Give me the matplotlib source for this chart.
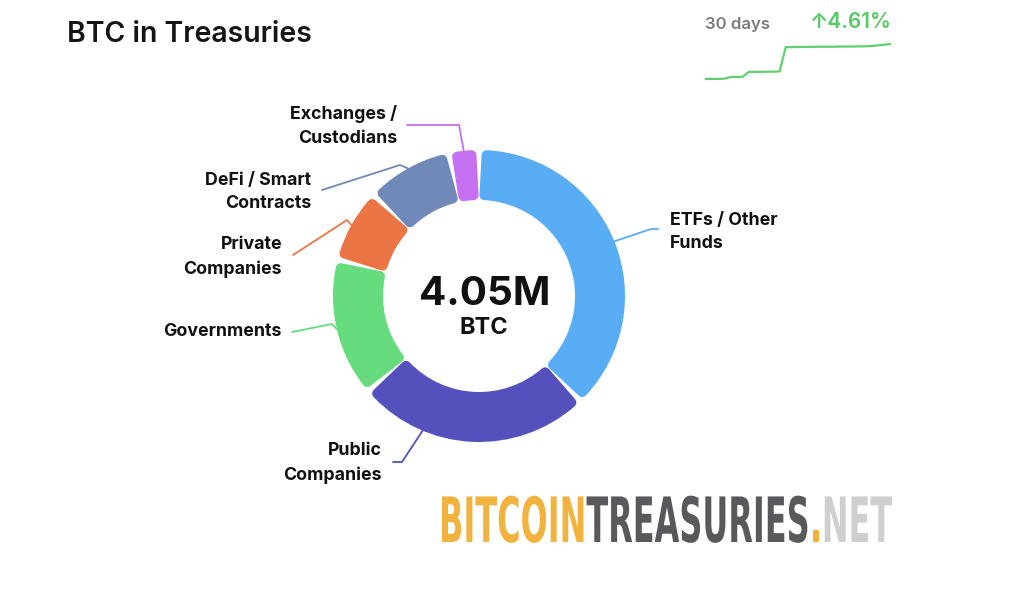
import matplotlib
matplotlib.use("Agg")
import matplotlib.pyplot as plt
from matplotlib.textpath import TextPath
from matplotlib.patches import PathPatch
from matplotlib.font_manager import FontProperties
from matplotlib.transforms import Affine2D
import numpy as np

plt.rcParams['font.family'] = ['Inter', 'DejaVu Sans']

# holdings by category, million BTC
categories = ['ETFs / Other\nFunds', 'Public\nCompanies', 'Governments',
              'Private\nCompanies', 'DeFi / Smart\nContracts', 'Exchanges /\nCustodians']
holdings = [1.53, 1.05, 0.62, 0.33, 0.385, 0.135]
colors = ['#58adf5', '#5451bd', '#66dc7e', '#ec7545', '#7189b9', '#c56ff1']

# total over the last 30 days, million BTC
days = list(range(31))
total_30d = [3.8715, 3.872, 3.872, 3.873, 3.882, 3.882, 3.883, 3.908, 3.908, 3.908,
             3.909, 3.909, 3.910, 4.034, 4.034, 4.035, 4.035, 4.035, 4.036, 4.036,
             4.036, 4.036, 4.037, 4.037, 4.037, 4.038, 4.038, 4.040, 4.043, 4.046, 4.050]

W, H = 1024, 593
fig = plt.figure(figsize=(W / 100, H / 100), dpi=100)
fig.patch.set_facecolor('white')
ax = fig.add_axes([0, 0, 1, 1])

cx, cy, R = 479, 297, 146
ring = 50
wedges, _ = ax.pie(holdings, colors=colors, startangle=90, counterclock=False,
                   center=(cx, cy), radius=R, wedgeprops=dict(width=ring))

# rounded segment corners: shrink each wedge and stroke it with a round join
corner = 5
gap = 3
for w in wedges:
    dtheta = np.degrees((corner + gap / 2) / (R - ring / 2))
    w.set_theta1(w.theta1 + dtheta)
    w.set_theta2(w.theta2 - dtheta)
    w.set_radius(R - corner)
    w.set_width(ring - 2 * corner)
    w.set_edgecolor(w.get_facecolor())
    w.set_linewidth(2 * corner * 0.72)
    w.set_joinstyle('round')

ax.set_xlim(0, W)
ax.set_ylim(0, H)
ax.set_aspect('auto')
ax.axis('off')

# label layout: (anchor fraction along wedge, elbow, line end, text pos, ha)
layout = [
    (0.5, (651, 364), (658, 364), (670, 361), 'left'),
    (0.27, (402, 131), (393, 131), (382, 130), 'right'),
    (0.5, (332, 269), (292, 261), (281, 261), 'right'),
    (0.5, (347, 373), (293, 338), (282, 336), 'right'),
    (0.5, (400, 428), (322, 403), (311, 401), 'right'),
    (0.5, (459, 468), (407, 468), (397, 467), 'right'),
]
for w, lab, col, (f, elbow, end, tpos, ha) in zip(wedges, categories, colors, layout):
    ang = np.radians(w.theta1 + f * (w.theta2 - w.theta1))
    sx, sy = cx + R * np.cos(ang), cy + R * np.sin(ang)
    ax.plot([sx, elbow[0], end[0]], [sy, elbow[1], end[1]], color=col, lw=1.3,
            solid_capstyle='round')
    ax.text(tpos[0], tpos[1], lab, ha=ha, va='center', multialignment=ha,
            fontsize=12.8, fontweight='bold', color='#111111', linespacing=1.5)

total = sum(holdings)
ax.text(cx + 6, H - 305, f'{total:.2f}M', ha='center', va='baseline',
        fontsize=29, fontweight='bold', color='#111111')
ax.text(cx + 5, H - 334, 'BTC', ha='center', va='baseline',
        fontsize=17, fontweight='bold', color='#111111')

ax.text(67, H - 35, 'BTC in Treasuries', ha='left', va='center',
        fontsize=20.5, fontweight='semibold', color='#151515')

# 30-day change
change = (total_30d[-1] / total_30d[0] - 1) * 100
ax.text(705, H - 24, '30 days', ha='left', va='center', fontsize=12,
        fontweight='semibold', color='#7a7a7a')
ax.text(892, H - 22, f'\u2191{change:.2f}%', ha='right', va='center', fontsize=15,
        fontweight='semibold', color='#56cb63')

spark = fig.add_axes([706 / W, (H - 79) / H, 184 / W, 35 / H])
spark.plot(days, total_30d, color='#5fd06d', lw=1.6, solid_joinstyle='miter')
spark.set_xlim(days[0], days[-1])
spark.set_ylim(min(total_30d), max(total_30d))
spark.axis('off')
spark.patch.set_alpha(0)
for line in spark.lines:
    line.set_clip_on(False)

# site wordmark, squeezed horizontally
fp = FontProperties(family=['Liberation Sans Narrow', 'DejaVu Sans'], weight='bold')
parts = [('BITCOIN', '#f2b23e'), ('TREASURIES', '#59595b'), ('.', '#f2b23e'), ('NET', '#cfcfcf')]
size = 45 / 0.72
ref_x1 = TextPath((0, 0), 'H', size=size, prop=fp).get_extents().x1
full = TextPath((0, 0), ''.join(s for s, _ in parts), size=size, prop=fp).get_extents()
xs = 450 / full.width
prefix = ''
for s, c in parts:
    offset = TextPath((0, 0), prefix + 'H', size=size, prop=fp).get_extents().x1 - ref_x1
    p = TextPath((0, 0), s, size=size, prop=fp)
    tr = Affine2D().translate(offset - full.x0, 0).scale(xs, 1).translate(442, H - 542)
    ax.add_patch(PathPatch(tr.transform_path(p), facecolor=c, edgecolor='none'))
    prefix += s

fig.savefig('out.png', dpi=100, facecolor='white')
